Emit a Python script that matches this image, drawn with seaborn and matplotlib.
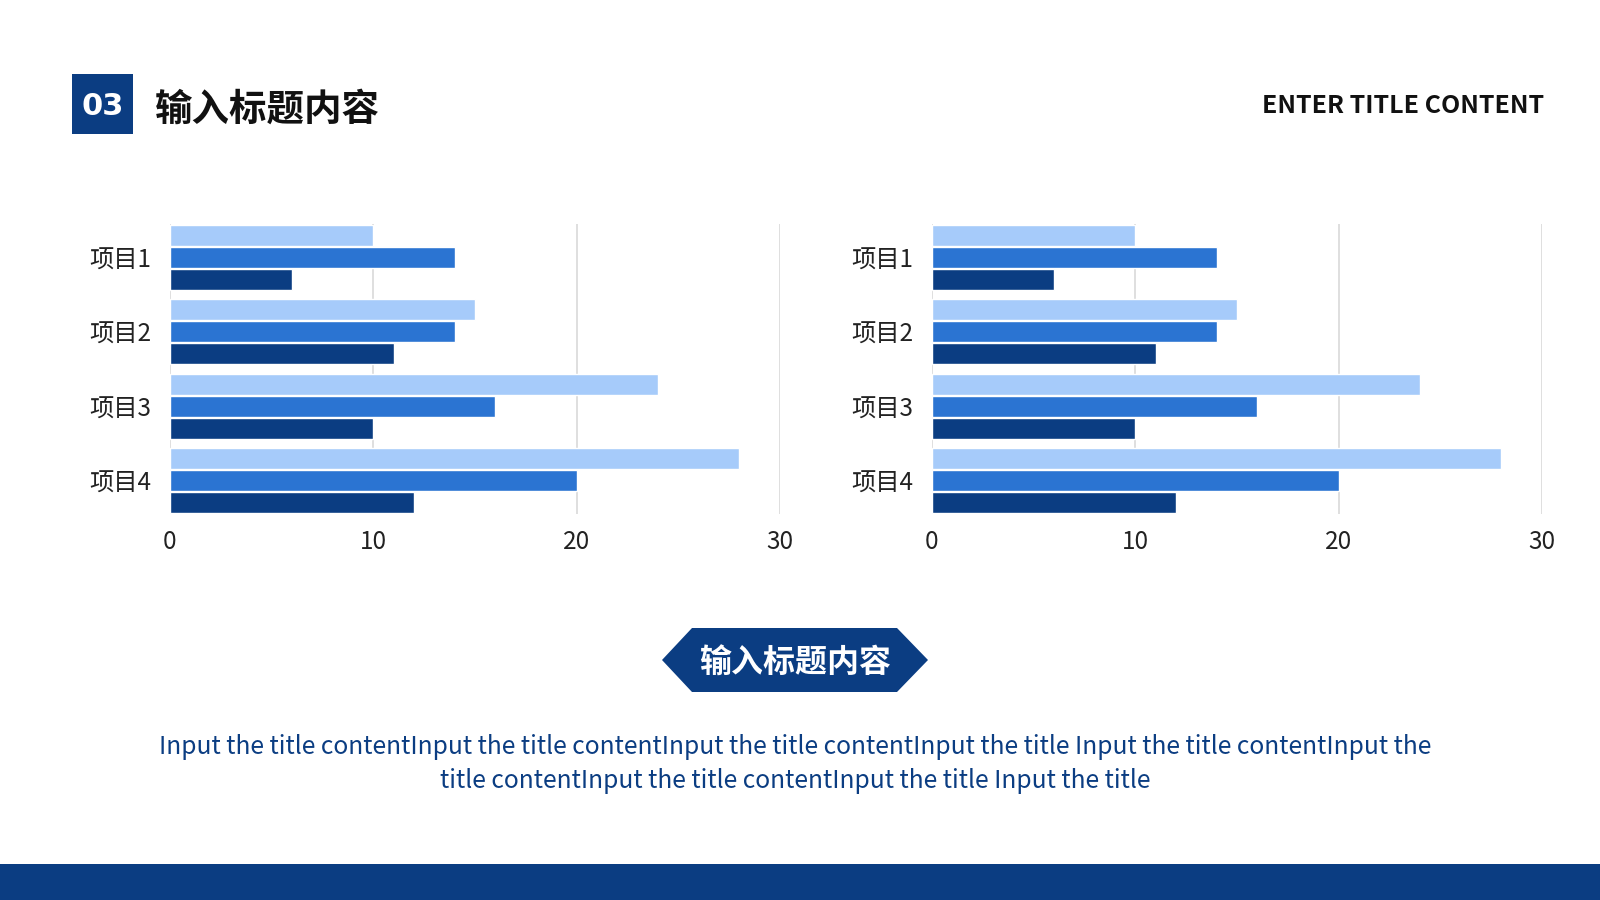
import matplotlib
matplotlib.use("Agg")
import matplotlib.pyplot as plt
import matplotlib.patches as mpatches
import seaborn as sns
import pandas as pd

# ---- data ----
items = ["项目1", "项目2", "项目3", "项目4"]
series_names = ["系列1", "系列2", "系列3"]
series_a = [10, 15, 24, 28]
series_b = [14, 14, 16, 20]
series_c = [6, 11, 10, 12]
x_ticks = [0, 10, 20, 30]

title_cn = "输入标题内容"
title_en = "ENTER TITLE CONTENT"
badge = "03"
sub_title = "输入标题内容"
para_lines = [
    "Input the title contentInput the title contentInput the title contentInput the title Input the title contentInput the",
    "title contentInput the title contentInput the title Input the title",
]

LIGHT = "#A6CBFA"
MID = "#2B74D2"
DARK = "#0B3D82"

rows = []
for name, vals in zip(series_names, [series_a, series_b, series_c]):
    for it, v in zip(items, vals):
        rows.append({"item": it, "series": name, "value": v})
df = pd.DataFrame(rows)

sns.set_theme(style="white")
plt.rcParams['font.family'] = ['Noto Sans CJK SC', 'DejaVu Sans']

fig = plt.figure(figsize=(16, 9), dpi=100)
fig.patch.set_facecolor("white")

ax_w = 610 / 1600
ax_h = (514 - 224) / 900
ax_b = 1 - 514 / 900
for left in [170 / 1600, 932 / 1600]:
    ax = fig.add_axes([left, ax_b, ax_w, ax_h])
    sns.barplot(data=df, y="item", x="value", hue="series", orient="h",
                palette=[LIGHT, MID, DARK], saturation=1, width=0.89, gap=0.06,
                legend=False, ax=ax, zorder=3)
    ax.set_xlim(0, 30)
    ax.set_ylim(3.447, -0.447)
    ax.set_xticks(x_ticks)
    ax.set_xlabel("")
    ax.set_ylabel("")
    ax.grid(axis="x", color="#D9D9D9", linewidth=1.2, zorder=0)
    ax.grid(axis="y", visible=False)
    for s in ax.spines.values():
        s.set_visible(False)
    ax.tick_params(axis="both", length=0, labelsize=17.5, colors="#222222")
    ax.tick_params(axis="x", pad=11)
    ax.tick_params(axis="y", pad=13.5)
    ax.set_facecolor("white")

# header badge
fig.patches.append(mpatches.Rectangle((72 / 1600, 1 - 134 / 900), 61 / 1600, 60 / 900,
                                      transform=fig.transFigure, facecolor=DARK,
                                      edgecolor="none"))
fig.text(102.5 / 1600, 1 - 106.5 / 900, badge, color="white", fontsize=22,
         fontweight="bold", ha="center", va="center", family="DejaVu Sans")
fig.text(155 / 1600, 1 - 109 / 900, title_cn, color="#111111", fontsize=27,
         fontweight="bold", ha="left", va="center")
fig.text(1544 / 1600, 1 - 106 / 900, title_en, color="#111111", fontsize=18,
         fontweight="bold", ha="right", va="center")

# hexagon label
hx = [662, 692, 897, 928, 897, 692]
hy = [660, 628, 628, 660, 692, 692]
pts = [(x / 1600, 1 - y / 900) for x, y in zip(hx, hy)]
fig.patches.append(mpatches.Polygon(pts, closed=True, transform=fig.transFigure,
                                    facecolor=DARK, edgecolor="none"))
fig.text(795 / 1600, 1 - 664 / 900, sub_title, color="white", fontsize=23,
         fontweight="bold", ha="center", va="center")

# paragraph
for i, line in enumerate(para_lines):
    fig.text(795 / 1600, 1 - (747 + i * 33.7) / 900, line, color=DARK,
             fontsize=17.7, ha="center", va="center")

# bottom band
fig.patches.append(mpatches.Rectangle((0, 0), 1, 36 / 900, transform=fig.transFigure,
                                      facecolor=DARK, edgecolor="none"))

fig.savefig("out.png", dpi=100, facecolor="white")
